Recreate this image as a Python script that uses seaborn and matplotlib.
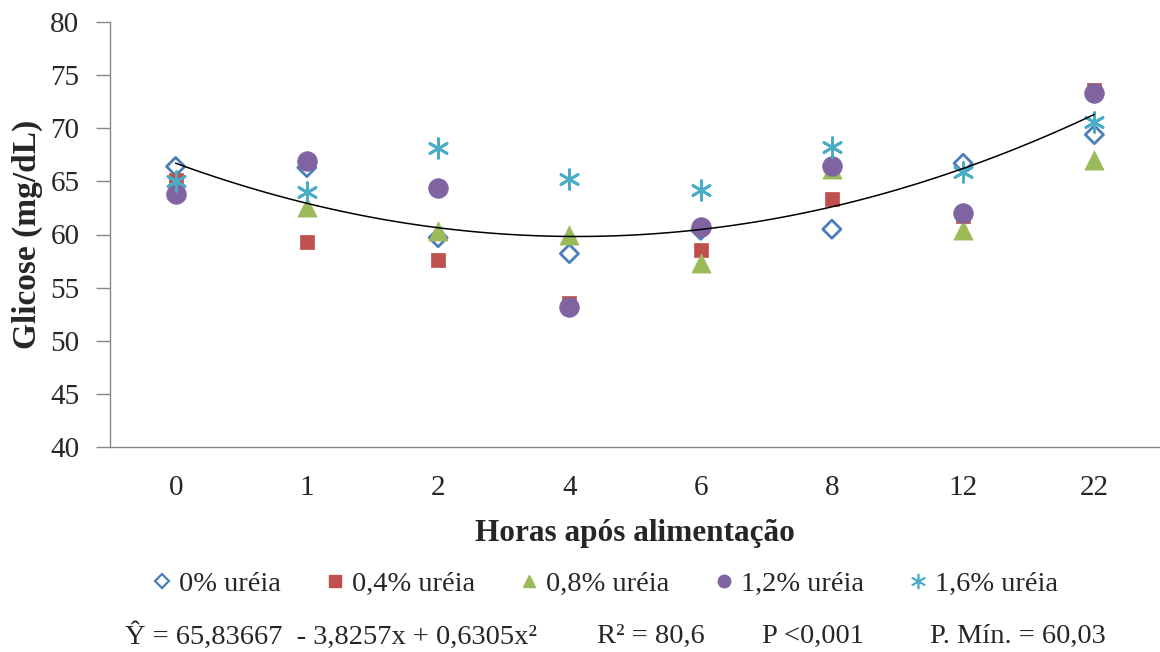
import numpy as np
import pandas as pd
import matplotlib
matplotlib.use("Agg")
import matplotlib.pyplot as plt
import seaborn as sns
from matplotlib.lines import Line2D

# Hours after feeding (categorical x axis)
hours = ["0", "1", "2", "4", "6", "8", "12", "22"]

# Glucose (mg/dL) per urea level
urea_0 = [66.4, 66.3, 59.7, 58.2, 60.4, 60.5, 66.7, 69.4]
urea_04 = [65.1, 59.3, 57.6, 53.6, 58.5, 63.3, 61.7, 73.6]
urea_08 = [64.3, 62.6, 60.3, 60.0, 57.3, 66.2, 60.4, 67.0]
urea_12 = [63.8, 66.9, 64.4, 53.2, 60.7, 66.4, 62.0, 73.3]
urea_16 = [65.0, 64.0, 68.1, 65.2, 64.2, 68.2, 65.9, 70.6]

# Trendline heights at each category
trend_values = [66.7, 63.0, 60.6, 59.8, 60.4, 62.6, 66.4, 71.2]

series_labels = ["0% uréia", "0,4% uréia", "0,8% uréia", "1,2% uréia", "1,6% uréia"]
series_values = [urea_0, urea_04, urea_08, urea_12, urea_16]

equation_text = "Ŷ = 65,83667  - 3,8257x + 0,6305x²"
r2_text = "R² = 80,6"
p_text = "P <0,001"
pmin_text = "P. Mín. = 60,03"

sns.set_style("white")
plt.rcParams["font.family"] = ["Liberation Serif", "DejaVu Serif"]

# --- styles per series ---
colors = ["#4A7EBB", "#C0504D", "#9BBB59", "#8064A2", "#4BACC6"]
markers = ["D", "s", "^", "o", (6, 2, 0)]
sizes = [85, 115, 190, 200, 200]

pos = np.arange(len(hours))
df = pd.DataFrame({"pos": pos, "trend": trend_values})

fig = plt.figure(figsize=(11.6, 6.52), dpi=100)
ax = fig.add_axes([110 / 1160, 1 - 447 / 652, 1050 / 1160, 425 / 652])

for label, vals, c, m, s in zip(series_labels, series_values, colors, markers, sizes):
    d = pd.DataFrame({"pos": pos, "glicose": vals})
    if m == "D":
        sns.scatterplot(data=d, x="pos", y="glicose", marker=m, s=s, ax=ax,
                        facecolor="none", edgecolor=c, linewidth=2, zorder=3)
    elif m == (6, 2, 0):
        sns.scatterplot(data=d, x="pos", y="glicose", marker=m, s=s, ax=ax,
                        color=c, linewidth=2.0, zorder=3)
    else:
        sns.scatterplot(data=d, x="pos", y="glicose", marker=m, s=s, ax=ax,
                        color=c, edgecolor=c, linewidth=0.5, zorder=3)

# quadratic trendline
sns.regplot(data=df, x="pos", y="trend", order=2, ci=None, scatter=False, ax=ax,
            truncate=True, line_kws={"color": "black", "linewidth": 1.1, "zorder": 4})

# --- axes ---
ax.set_xlim(-0.5, len(hours) - 0.5)
ax.set_ylim(40, 80)
ax.set_yticks(np.arange(40, 81, 5))
ax.set_xticks(pos)
ax.set_xticklabels(hours)
ax.set_xticks(np.arange(-0.5, len(hours), 1.0), minor=True)
ax.tick_params(axis="x", which="major", length=0, pad=20, labelsize=21)
ax.tick_params(axis="x", which="minor", length=10, width=1, color="#888888", direction="out")
ax.tick_params(axis="y", length=10, width=1, color="#888888", direction="out", pad=12, labelsize=21, left=True)
for side in ["top", "right"]:
    ax.spines[side].set_visible(False)
for side in ["left", "bottom"]:
    ax.spines[side].set_color("#888888")
    ax.spines[side].set_linewidth(1)

ax.set_xlabel("Horas após alimentação", fontsize=22.5, fontweight="bold")
ax.xaxis.set_label_coords(0.5, -0.17)
ax.set_ylabel("Glicose (mg/dL)", fontsize=24, fontweight="bold")
ax.yaxis.set_label_coords(-0.064, 0.5)

# --- legend ---
handles = []
for label, c, m in zip(series_labels, colors, markers):
    if m == "D":
        h = Line2D([], [], linestyle="none", marker=m, markersize=7,
                   markerfacecolor="none", markeredgecolor=c, markeredgewidth=1.6)
    elif m == (6, 2, 0):
        h = Line2D([], [], linestyle="none", marker=m, markersize=11,
                   markeredgecolor=c, markeredgewidth=1.2)
    else:
        h = Line2D([], [], linestyle="none", marker=m, markersize=9,
                   markerfacecolor=c, markeredgecolor=c)
    handles.append(h)
fig.legend(handles, series_labels, loc="center", bbox_to_anchor=(605 / 1160, 1 - 584 / 652),
           ncol=5, frameon=False, fontsize=20.5, handlelength=0.7, handletextpad=0.25,
           columnspacing=1.55)

# --- regression text ---
ty = 1 - 636 / 652
fig.text(125 / 1160, ty, equation_text, fontsize=20.5, va="center", ha="left")
fig.text(597 / 1160, ty, r2_text, fontsize=20.5, va="center", ha="left")
fig.text(762 / 1160, ty, p_text, fontsize=20.5, va="center", ha="left")
fig.text(1106 / 1160, ty, pmin_text, fontsize=20.5, va="center", ha="right")

fig.savefig("out.png", dpi=100)
